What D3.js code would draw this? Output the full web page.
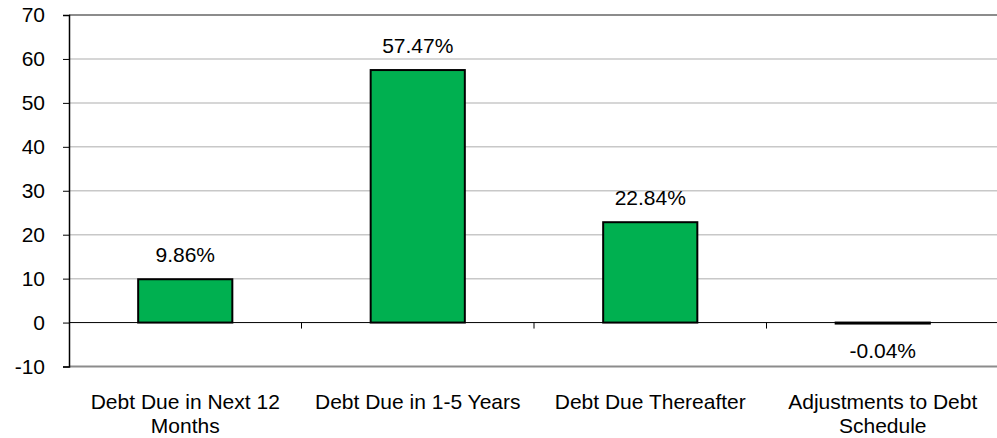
<!DOCTYPE html>
<html>
<head>
<meta charset="utf-8">
<script src="https://cdn.jsdelivr.net/npm/d3@7"></script>
<style>
  html, body { margin: 0; padding: 0; background: #fff; }
  svg { display: block; font-family: "Liberation Sans", Arial, sans-serif; }
</style>
</head>
<body>
<svg id="chart" width="997" height="438"></svg>
<script>
// ============= Data =============
const categories = [
  ["Debt Due in Next 12", "Months"],
  ["Debt Due in 1-5 Years"],
  ["Debt Due Thereafter"],
  ["Adjustments to Debt", "Schedule"],
];
const values = [9.86, 57.47, 22.84, -0.04];
const valueLabels = ["9.86%", "57.47%", "22.84%", "-0.04%"];
const yTicks = [-10, 0, 10, 20, 30, 40, 50, 60, 70];

// ============= Layout =============
const WIDTH = 997;
const HEIGHT = 438;
const MARGIN = { TOP: 15, RIGHT: -2, BOTTOM: 71.5, LEFT: 69 };
const FONT_SIZE = "21px";
const BAR_COLOR = "#00B050";

const svg = d3.select("#chart");
const innerW = WIDTH - MARGIN.LEFT - MARGIN.RIGHT;
const innerH = HEIGHT - MARGIN.TOP - MARGIN.BOTTOM;
const g = svg.append("g").attr("transform", `translate(${MARGIN.LEFT},${MARGIN.TOP})`);

const xScale = d3.scaleBand().domain(d3.range(values.length)).range([0, innerW]).paddingInner(0).paddingOuter(0);
const yScale = d3.scaleLinear().domain([-10, 70]).range([innerH, 0]);
const barW = xScale.bandwidth() * 0.405;

// grid lines
g.selectAll(".grid-line")
  .data(yTicks.filter((d) => d !== 0 && d !== 70 && d !== -10))
  .enter()
  .append("line")
  .attr("x1", 0)
  .attr("x2", innerW)
  .attr("y1", yScale)
  .attr("y2", yScale)
  .attr("stroke", "#c8c8c8")
  .attr("stroke-width", 1.5);

// top and bottom frame
g.append("line").attr("x1", 0).attr("x2", innerW).attr("y1", yScale(70)).attr("y2", yScale(70))
  .attr("stroke", "#8c8c8c").attr("stroke-width", 2);
g.append("line").attr("x1", 0).attr("x2", innerW).attr("y1", yScale(-10)).attr("y2", yScale(-10))
  .attr("stroke", "#8c8c8c").attr("stroke-width", 2);

// bars
g.selectAll(".bar")
  .data(values)
  .enter()
  .append("rect")
  .attr("x", (d, i) => xScale(i) + (xScale.bandwidth() - barW) / 2)
  .attr("y", (d) => yScale(Math.max(0, d)))
  .attr("width", barW)
  .attr("height", (d) => Math.max(1, Math.abs(yScale(d) - yScale(0))))
  .attr("fill", BAR_COLOR)
  .attr("stroke", "#000")
  .attr("stroke-width", 2);

// zero line with category ticks
g.append("line").attr("x1", 0).attr("x2", innerW).attr("y1", yScale(0)).attr("y2", yScale(0))
  .attr("stroke", "#000").attr("stroke-width", 1);
g.selectAll(".cat-tick")
  .data(d3.range(1, values.length))
  .enter()
  .append("line")
  .attr("x1", (i) => xScale(i))
  .attr("x2", (i) => xScale(i))
  .attr("y1", yScale(0))
  .attr("y2", yScale(0) + 6)
  .attr("stroke", "#000")
  .attr("stroke-width", 1);

// y axis
const yAxis = g.append("g")
  .call(d3.axisLeft(yScale).tickValues(yTicks).tickFormat((d) => String(d)).tickSize(6).tickPadding(18));
yAxis.select(".domain").attr("stroke", "#000").attr("stroke-width", 1.5);
yAxis.selectAll("line").attr("stroke", "#000");
yAxis.selectAll("text").style("font-size", FONT_SIZE).style("fill", "#000")
  .style("font-family", "Liberation Sans, Arial, sans-serif");

// value labels
g.selectAll(".value-label")
  .data(values)
  .enter()
  .append("text")
  .attr("x", (d, i) => xScale(i) + xScale.bandwidth() / 2)
  .attr("y", (d) => (d >= 0 ? yScale(d) - 17 : yScale(d) + 35))
  .attr("text-anchor", "middle")
  .style("font-size", FONT_SIZE)
  .style("fill", "#000")
  .text((d, i) => valueLabels[i]);

// category labels
const catLabels = g.selectAll(".cat-label")
  .data(categories)
  .enter()
  .append("text")
  .attr("text-anchor", "middle")
  .attr("transform", (d, i) => `translate(${xScale(i) + xScale.bandwidth() / 2},${innerH + 42})`)
  .style("font-size", FONT_SIZE)
  .style("fill", "#000");
catLabels.selectAll("tspan")
  .data((d) => d)
  .enter()
  .append("tspan")
  .attr("x", 0)
  .attr("dy", (d, j) => (j === 0 ? 0 : 24))
  .text((d) => d);
</script>
</body>
</html>
